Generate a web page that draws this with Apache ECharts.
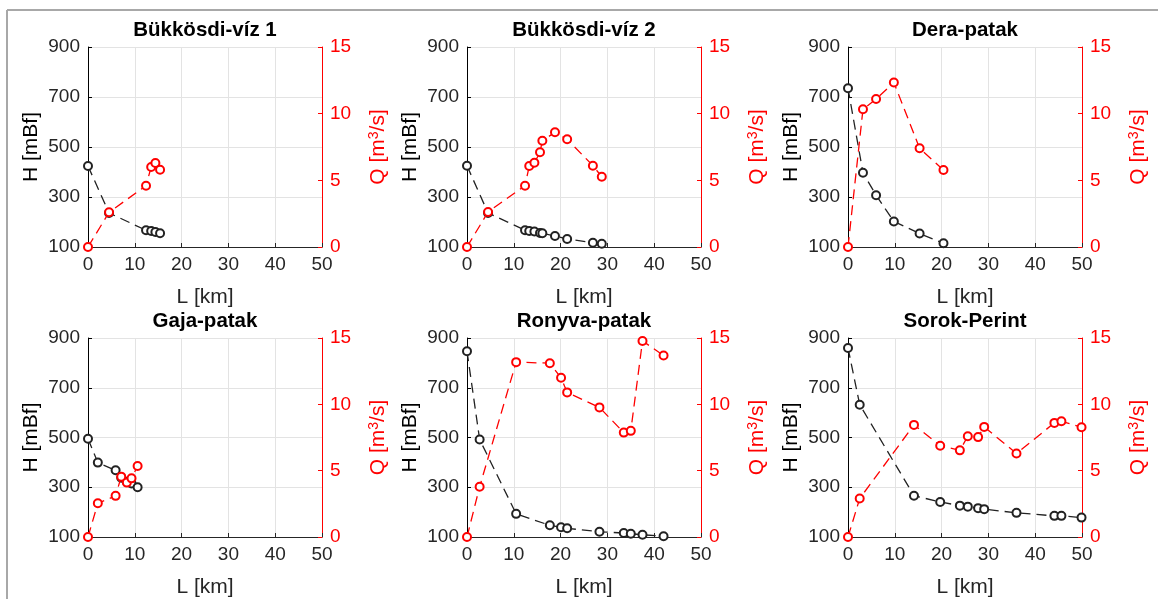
<!DOCTYPE html>
<html>
<head>
<meta charset="utf-8">
<script src="https://cdn.jsdelivr.net/npm/echarts@6/dist/echarts.min.js"></script>
<style>
  html, body { margin: 0; padding: 0; background: #fff; }
  #chart { width: 1158px; height: 599px; }
</style>
</head>
<body>
<div id="chart"></div>
<script>
// panel titles
var titles = ['Bükkösdi-víz 1', 'Bükkösdi-víz 2', 'Dera-patak', 'Gaja-patak', 'Ronyva-patak', 'Sorok-Perint'];

// L [km], H [mBf], Q [m3/s] per river
var L1 = [0, 4.5, 12.4, 13.5, 14.4, 15.4];
var H1 = [424, 236, 167, 164, 160, 155];
var Q1 = [0, 2.6, 4.6, 6.0, 6.3, 5.8];

var L2 = [0, 4.5, 12.4, 13.3, 14.4, 15.6, 16.1, 18.8, 21.4, 26.9, 28.8];
var H2 = [425, 236, 167, 164, 162, 156, 155, 144, 132, 117, 113];
var Q2 = [0, 2.63, 4.6, 6.07, 6.32, 7.1, 7.97, 8.6, 8.08, 6.1, 5.27];

var L3 = [0, 3.2, 6.0, 9.8, 15.3, 20.4];
var H3 = [735, 397, 307, 202, 154, 115];
var Q3 = [0, 10.33, 11.1, 12.34, 7.4, 5.77];

var L4 = [0, 2.1, 5.9, 7.1, 8.3, 9.3, 10.6];
var H4 = [495, 399, 368, 338, 322, 315, 300];
var Q4 = [0, 2.54, 3.1, 4.55, 4.1, 4.42, 5.35];

var L5 = [0, 2.7, 10.5, 17.7, 20.1, 21.4, 28.3, 33.5, 35.0, 37.5, 42.0];
var H5 = [847, 492, 193, 147, 139, 135, 121, 116, 113, 109, 103];
var Q5 = [0, 3.79, 13.18, 13.1, 12.0, 10.9, 9.77, 7.87, 8.0, 14.78, 13.68];

var L6 = [0, 2.5, 14.1, 19.7, 23.9, 25.6, 27.8, 29.1, 36.0, 44.1, 45.6, 49.9];
var H6 = [860, 632, 266, 241, 226, 222, 216, 212, 197, 185, 185, 178];
var Q6 = [0, 2.9, 8.45, 6.88, 6.53, 7.6, 7.53, 8.3, 6.3, 8.6, 8.72, 8.27];

var xTicks = [0, 10, 20, 30, 40, 50];
var hTicks = [100, 300, 500, 700, 900];
var qTicks = [0, 5, 10, 15];

var rivers = [
    { L: L1, H: H1, Q: Q1 },
    { L: L2, H: H2, Q: Q2 },
    { L: L3, H: H3, Q: Q3 },
    { L: L4, H: H4, Q: Q4 },
    { L: L5, H: H5, Q: Q5 },
    { L: L6, H: H6, Q: Q6 }
];

var FONT = '"Liberation Sans", Arial, sans-serif';
var lefts = [88, 467, 848];
var tops = [47, 338];
var W = 234, HT = 200;

var myChart = echarts.init(document.getElementById('chart'));

function pairs(xs, ys) {
    var out = [];
    for (var i = 0; i < xs.length; i++) out.push([xs[i], ys[i]]);
    return out;
}

var grids = [], xAxes = [], yAxes = [], series = [], titleList = [];

for (var i = 0; i < 6; i++) {
    var col = i % 3, row = Math.floor(i / 3);
    grids.push({ left: lefts[col], top: tops[row], width: W, height: HT });

    titleList.push({
        text: titles[i],
        left: lefts[col] + W / 2,
        top: tops[row] - 27,
        textAlign: 'center',
        padding: 0,
        textStyle: { fontFamily: FONT, fontSize: 20.5, fontWeight: 'bold', color: '#000' }
    });

    xAxes.push({
        gridIndex: i,
        type: 'value',
        min: xTicks[0], max: xTicks[xTicks.length - 1], interval: 10,
        name: 'L [km]',
        nameLocation: 'middle',
        nameGap: 40,
        nameTextStyle: { fontFamily: FONT, fontSize: 21, color: '#262626' },
        axisLine: { show: true, onZero: false, lineStyle: { color: '#262626', width: 1 } },
        axisTick: { show: true, inside: true, length: 4, lineStyle: { color: '#262626' } },
        axisLabel: { fontFamily: FONT, fontSize: 19, color: '#262626', margin: 8 },
        splitLine: { show: true, lineStyle: { color: '#e3e3e3', width: 1 } }
    });

    // left axis: elevation
    yAxes.push({
        gridIndex: i,
        type: 'value',
        position: 'left',
        min: hTicks[0], max: hTicks[hTicks.length - 1], interval: 200,
        name: 'H [mBf]',
        nameLocation: 'middle',
        nameGap: 46,
        nameTextStyle: { fontFamily: FONT, fontSize: 21, color: '#000' },
        axisLine: { show: true, lineStyle: { color: '#000', width: 1 } },
        axisTick: { show: true, inside: true, length: 4, lineStyle: { color: '#000' } },
        axisLabel: { fontFamily: FONT, fontSize: 19, color: '#262626', margin: 8 },
        splitLine: { show: true, lineStyle: { color: '#e3e3e3', width: 1 } }
    });

    // right axis: discharge
    yAxes.push({
        gridIndex: i,
        type: 'value',
        position: 'right',
        min: qTicks[0], max: qTicks[qTicks.length - 1], interval: 5,
        name: 'Q [m{sup|3}/s]',
        nameLocation: 'middle',
        nameGap: 45,
        nameTextStyle: {
            fontFamily: FONT, fontSize: 21, color: '#ff0000',
            rich: { sup: { fontFamily: FONT, fontSize: 14, color: '#ff0000', verticalAlign: 'top', padding: [0, 0, 9, 0] } }
        },
        axisLine: { show: true, lineStyle: { color: '#ff0000', width: 1 } },
        axisTick: { show: true, inside: true, length: 4, lineStyle: { color: '#ff0000' } },
        axisLabel: { fontFamily: FONT, fontSize: 19, color: '#ff0000', margin: 8 },
        splitLine: { show: false }
    });

    series.push({
        type: 'line',
        xAxisIndex: i,
        yAxisIndex: 2 * i,
        data: pairs(rivers[i].L, rivers[i].H),
        symbol: 'emptyCircle',
        symbolSize: 8,
        clip: false,
        lineStyle: { color: '#222', width: 1.3, type: [10, 6] },
        itemStyle: { color: '#222', borderColor: '#222', borderWidth: 1.1 },
        z: 2
    });
    series.push({
        type: 'line',
        xAxisIndex: i,
        yAxisIndex: 2 * i + 1,
        data: pairs(rivers[i].L, rivers[i].Q),
        symbol: 'emptyCircle',
        symbolSize: 8,
        clip: false,
        lineStyle: { color: '#ff0000', width: 1.3, type: [10, 6] },
        itemStyle: { color: '#ff0000', borderColor: '#ff0000', borderWidth: 1.1 },
        z: 3
    });
}

var option = {
    animation: false,
    backgroundColor: '#fff',
    title: titleList,
    grid: grids,
    xAxis: xAxes,
    yAxis: yAxes,
    series: series,
    // figure frame (top and left edge)
    graphic: [
        { type: 'line', shape: { x1: 7, y1: 10, x2: 1158, y2: 10 }, style: { stroke: '#a8a8a8', lineWidth: 2 } },
        { type: 'line', shape: { x1: 7, y1: 10, x2: 7, y2: 599 }, style: { stroke: '#a8a8a8', lineWidth: 2 } }
    ]
};

myChart.setOption(option);
</script>
</body>
</html>
